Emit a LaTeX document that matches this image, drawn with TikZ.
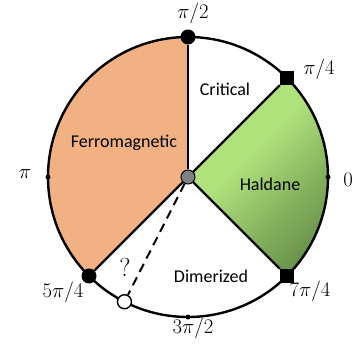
\documentclass[tikz,border=0pt]{standalone}
\usepackage{fontspec}
\newfontfamily\phasefont{Carlito}
\usetikzlibrary{positioning}

\definecolor{ferro}{HTML}{F2B183}
\definecolor{haldL}{HTML}{B0E27C}
\definecolor{haldD}{HTML}{678F48}
\pgfdeclareverticalshading{haldshade}{100bp}{color(0bp)=(haldD); color(25bp)=(haldD); color(42bp)=(haldL!50!haldD); color(58bp)=(haldL); color(100bp)=(haldL)}

\begin{document}
\begin{tikzpicture}[x=1pt,y=1pt,
rim/.style = {line width=2.4pt,black},
phase/.style = {font=\phasefont\fontsize{18}{21}\selectfont},
angle/.style = {font=\fontsize{20.5}{24}\selectfont},
bigdot/.style = {circle,fill=black,inner sep=0pt,minimum size=15pt},
tick/.style = {circle,fill=black,inner sep=0pt,minimum size=5pt},
endsq/.style = {rectangle,fill=black,inner sep=0pt,minimum size=14pt}]

        \useasboundingbox (-188,-167) rectangle (164,177);
        \def\R{140}

        \coordinate (O) at (0,0);
        \coordinate (A0) at (0:\R);
        \coordinate (A45) at (45:\R);
        \coordinate (A90) at (90:\R);
        \coordinate (A180) at (180:\R);
        \coordinate (A225) at (225:\R);
        \coordinate (A243) at (243:\R);
        \coordinate (A270) at (270:\R);
        \coordinate (A315) at (-45:\R);

        % phase regions
        \fill[ferro] (O) -- (A90) arc[start angle=90,end angle=225,radius=\R] -- cycle;
        \shade[shading=haldshade,shading angle=45] (O) -- (A315) arc[start angle=-45,end angle=45,radius=\R] -- cycle;

        \draw[rim] (O) circle[radius=\R];

        \node[circle,fill=gray,draw=black,line width=1pt,inner sep=0pt,minimum size=14pt] (c) at (O) {};
        \node[bigdot] (d90) at (A90) {};
        \node[bigdot] (d225) at (A225) {};
        \node[endsq] (s45) at (A45) {};
        \node[endsq] (s315) at (A315) {};
        \node[tick] (t0) at (A0) {};
        \node[tick] (t180) at (A180) {};
        \node[tick] (t270) at (A270) {};
        \node[circle,draw=black,fill=white,line width=1.4pt,inner sep=0pt,minimum size=14pt] (q) at (A243) {};

        \draw[rim] (c) -- (d90);
        \draw[rim] (c) -- (d225);
        \draw[rim] (c) -- (s45);
        \draw[rim] (c) -- (s315);
        \draw[line width=2pt,dash pattern=on 9pt off 6pt] (c) -- (q);

        \node[phase] (crit) at (37,88) {Critical};
        \node[phase] (fm) at (-64,34) {Ferromagnetic};
        \node[phase] (hald) at (82,-7) {Haldane};
        \node[phase] (dim) at (23,-99) {Dimerized};

        \node[angle] (l90) at (5,164) {$\pi/2$};
        \node[angle] (l45) at (131,108) {$\pi/4$};
        \node[angle] (l180) at (-163,3) {$\pi$};
        \node[angle] (l0) at (160,-3) {$0$};
        \node[angle] (l225) at (-125,-115) {$5\pi/4$};
        \node[angle] (l315) at (122,-114) {$7\pi/4$};
        \node[angle] (l270) at (5,-151) {$3\pi/2$};
        \node[font=\fontsize{26}{30}\selectfont] (ask) at (-63,-90) {?};

\end{tikzpicture}
\end{document}
